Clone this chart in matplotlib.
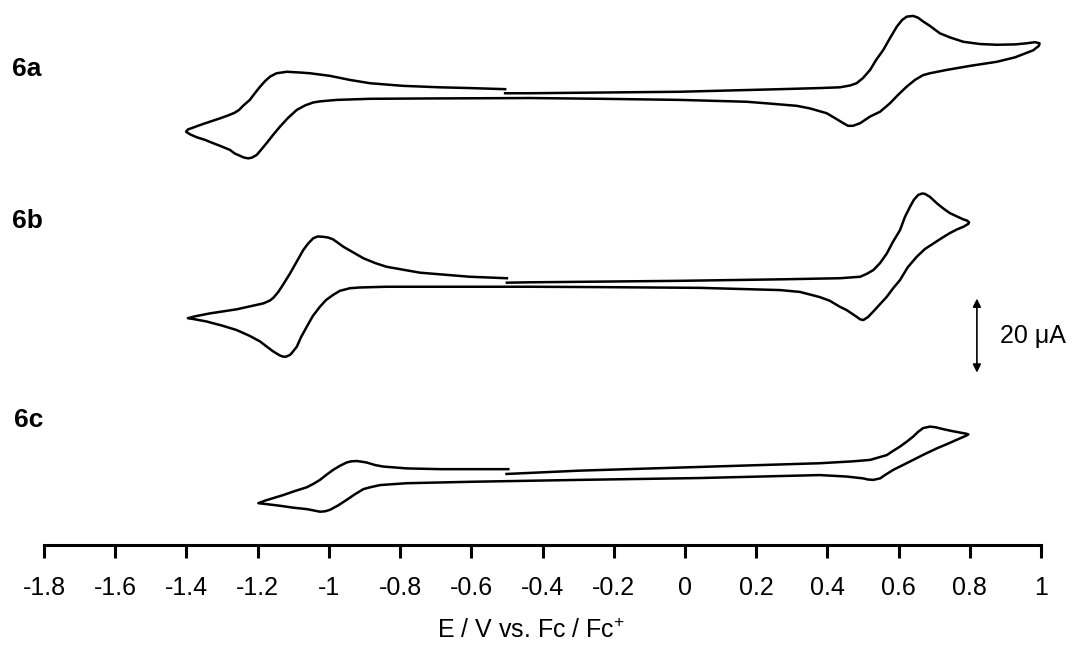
import matplotlib
matplotlib.use('Agg')
import matplotlib.pyplot as plt

plt.rcParams['font.family'] = ['Liberation Sans', 'DejaVu Sans']
plt.rcParams['mathtext.fontset'] = 'custom'
plt.rcParams['mathtext.rm'] = 'Liberation Sans'

# cyclic voltammograms, E in V vs Fc/Fc+, i in uA (scan starts at -0.5 V)
E_6a = [-0.505, -0.435, -0.014, 0.267, 0.379, 0.435, 0.464, 0.482, 0.500, 0.520, 0.537, 0.557, 0.576, 0.595,
        0.610, 0.623, 0.641, 0.655, 0.669, 0.688, 0.716, 0.744, 0.782, 0.829, 0.876, 0.927, 0.960, 0.983,
        0.996, 0.994, 0.978, 0.927, 0.876, 0.801, 0.735, 0.688, 0.669, 0.646, 0.623, 0.598, 0.576, 0.548,
        0.520, 0.492, 0.472, 0.458, 0.445, 0.421, 0.398, 0.351, 0.314, 0.239, 0.173, -0.014, -0.239, -0.435,
        -0.697, -0.884, -0.978, -1.025, -1.044, -1.067, -1.090, -1.115, -1.137, -1.157, -1.175, -1.193,
        -1.203, -1.216, -1.226, -1.238, -1.245, -1.264, -1.278, -1.306, -1.325, -1.348, -1.371, -1.390,
        -1.401, -1.396, -1.376, -1.353, -1.328, -1.306, -1.283, -1.265, -1.252, -1.241, -1.222, -1.207, -1.193,
        -1.179, -1.165, -1.147, -1.118, -1.081, -1.053, -0.997, -0.941, -0.884, -0.792, -0.688, -0.604, -0.505]
I_6a = [0.0, 0.0, 0.4, 1.1, 1.4, 1.6, 2.1, 2.7, 4.1, 6.3, 9.0, 11.7, 14.9, 18.0,
        19.8, 20.7, 20.9, 20.4, 19.4, 18.2, 16.2, 15.1, 13.9, 13.3, 13.1, 13.2, 13.5, 13.8,
        13.5, 12.8, 11.6, 9.7, 8.5, 7.4, 6.3, 5.4, 4.9, 3.6, 1.8, -0.5, -2.7, -5.0,
        -6.3, -8.1, -8.8, -8.8, -8.1, -6.7, -5.4, -4.1, -3.4, -2.8, -2.3, -1.8, -1.5, -1.3,
        -1.4, -1.5, -1.8, -2.2, -2.5, -3.3, -4.5, -6.7, -9.0, -11.3, -13.5, -15.6,
        -16.7, -17.4, -17.6, -17.4, -17.1, -16.3, -15.3, -14.2, -13.5, -12.6, -11.9, -11.1,
        -10.4, -9.8, -9.1, -8.3, -7.5, -6.8, -6.0, -5.3, -4.5, -3.4, -1.8, 0.1, 1.8,
        3.3, 4.5, 5.4, 5.8, 5.6, 5.4, 4.7, 3.6, 2.7, 2.0, 1.6, 1.4, 1.1]

E_6b = [-0.500, -0.435, -0.014, 0.267, 0.435, 0.492, 0.511, 0.529, 0.548, 0.567, 0.584, 0.604, 0.618, 0.632,
        0.643, 0.655, 0.666, 0.674, 0.688, 0.707, 0.725, 0.744, 0.764, 0.782, 0.792, 0.798, 0.796, 0.782,
        0.764, 0.744, 0.722, 0.698, 0.674, 0.651, 0.626, 0.604, 0.584, 0.567, 0.548, 0.529, 0.514, 0.501,
        0.492, 0.482, 0.454, 0.435, 0.407, 0.379, 0.323, 0.267, 0.042, -0.239, -0.435, -0.660, -0.838,
        -0.913, -0.941, -0.969, -0.988, -1.008, -1.025, -1.045, -1.062, -1.078, -1.090, -1.104, -1.109,
        -1.120, -1.128, -1.137, -1.156, -1.177, -1.193, -1.222, -1.259, -1.300, -1.343, -1.376, -1.396,
        -1.376, -1.334, -1.259, -1.184, -1.165, -1.155, -1.142, -1.129, -1.109, -1.089, -1.072, -1.059, -1.044,
        -1.031, -1.016, -1.002, -0.988, -0.959, -0.932, -0.903, -0.870, -0.838, -0.744, -0.604, -0.500]
I_6b = [0.0, 0.1, 0.5, 0.9, 1.2, 1.6, 2.4, 3.4, 5.3, 7.9, 11.0, 14.2, 17.8, 20.5,
        22.4, 23.7, 24.1, 24.0, 23.2, 21.5, 20.1, 18.8, 17.9, 17.1, 16.8, 16.3, 15.9, 15.1,
        14.4, 13.4, 12.1, 10.6, 9.1, 7.0, 4.2, 0.7, -1.6, -3.8, -5.8, -7.8, -9.3, -10.1,
        -9.9, -9.2, -7.4, -6.5, -4.9, -3.9, -2.5, -2.0, -1.4, -1.2, -1.1, -1.1, -1.1,
        -1.3, -1.5, -2.2, -3.3, -4.7, -6.5, -9.0, -11.9, -14.7, -17.3, -19.0, -19.5,
        -20.0, -20.0, -19.7, -18.6, -17.1, -15.9, -14.4, -12.8, -11.6, -10.5, -9.9, -9.6,
        -9.1, -8.3, -7.2, -5.6, -4.8, -4.0, -2.5, -0.6, 2.5, 5.9, 8.8, 10.5, 12.0,
        12.5, 12.4, 12.2, 11.7, 9.7, 8.2, 6.6, 5.3, 4.3, 2.7, 1.6, 1.2]

E_6c = [-0.501, -0.295, 0.042, 0.379, 0.470, 0.520, 0.567, 0.584, 0.604, 0.624, 0.641, 0.655, 0.669, 0.688, 0.705,
        0.726, 0.750, 0.772, 0.789, 0.796, 0.789, 0.772, 0.739, 0.707, 0.674, 0.641, 0.612, 0.585, 0.565,
        0.548, 0.529, 0.514, 0.501, 0.454, 0.379, 0.042, -0.295, -0.594, -0.781, -0.856, -0.884, -0.903,
        -0.927, -0.950, -0.974, -0.997, -1.011, -1.025, -1.062, -1.101, -1.137, -1.171, -1.198, -1.179,
        -1.128, -1.095, -1.062, -1.042, -1.025, -1.005, -0.988, -0.969, -0.950, -0.938, -0.922, -0.907,
        -0.894, -0.870, -0.847, -0.781, -0.688, -0.496]
I_6c = [0.0, 0.9, 1.9, 2.9, 3.4, 3.8, 5.1, 6.2, 7.4, 8.8, 10.1, 11.4, 12.4, 12.8, 12.6,
        12.1, 11.6, 11.2, 10.9, 10.7, 10.3, 9.6, 8.2, 6.9, 5.4, 3.8, 2.4, 1.1, -0.1,
        -1.2, -1.6, -1.5, -1.2, -0.7, -0.3, -1.1, -1.6, -2.1, -2.5, -3.0, -3.6, -4.1,
        -5.5, -7.0, -8.5, -9.7, -10.1, -10.2, -9.5, -9.1, -8.6, -8.2, -7.9, -7.2,
        -5.7, -4.6, -3.6, -2.6, -1.6, -0.1, 1.1, 2.2, 3.1, 3.4, 3.5, 3.3,
        3.1, 2.4, 2.0, 1.5, 1.3, 1.3]

names = ['6a', '6b', '6c']
SCALE_UA = 20

# vertical stacking of the traces (uA above the axis)
offsets = [122.1, 70.9, 19.2]

fig = plt.figure(figsize=(10.72, 6.46), dpi=100)
ax = fig.add_axes([44/1072, 101/646, 997/1072, 545/646])

for E, I, off in zip([E_6a, E_6b, E_6c], [I_6a, I_6b, I_6c], offsets):
    ax.plot(E, [i + off for i in I], color='black', lw=1.8, solid_joinstyle='round')

ax.set_xlim(-1.8, 1.0)
ax.set_ylim(0, 147.3)
for s in ['top', 'right', 'left']:
    ax.spines[s].set_visible(False)
ax.spines['bottom'].set_linewidth(2.2)
ax.set_yticks([])
ax.set_xticks([-1.8 + 0.2*k for k in range(15)])
ax.set_xticklabels(['-1.8', '-1.6', '-1.4', '-1.2', '-1', '-0.8', '-0.6', '-0.4', '-0.2',
                    '0', '0.2', '0.4', '0.6', '0.8', '1'])
ax.tick_params(axis='x', direction='out', length=9, width=2.2, labelsize=18, pad=13)

fig.text(531/1072, 1 - 631/646, 'E / V vs. Fc / Fc$^{+}$', fontsize=18, ha='center', va='center')

# compound labels
for name, (px, py) in zip(names, [(26.5, 69.5), (27, 221), (29, 420)]):
    fig.text(px/1072, 1 - py/646, name, fontsize=19, fontweight='bold', ha='center', va='center')

# current scale bar
bar_x = 0.820
bar_y0 = 46.6
ax.annotate('', xy=(bar_x, bar_y0 + SCALE_UA), xytext=(bar_x, bar_y0),
            arrowprops=dict(arrowstyle='<|-|>', color='black', lw=1.2, mutation_scale=12,
                            shrinkA=0, shrinkB=0), annotation_clip=False)
ax.text(bar_x + 0.065, bar_y0 + SCALE_UA/2, '%d \u03bcA' % SCALE_UA, fontsize=18, ha='left', va='center')

fig.savefig('out.png', dpi=100)
